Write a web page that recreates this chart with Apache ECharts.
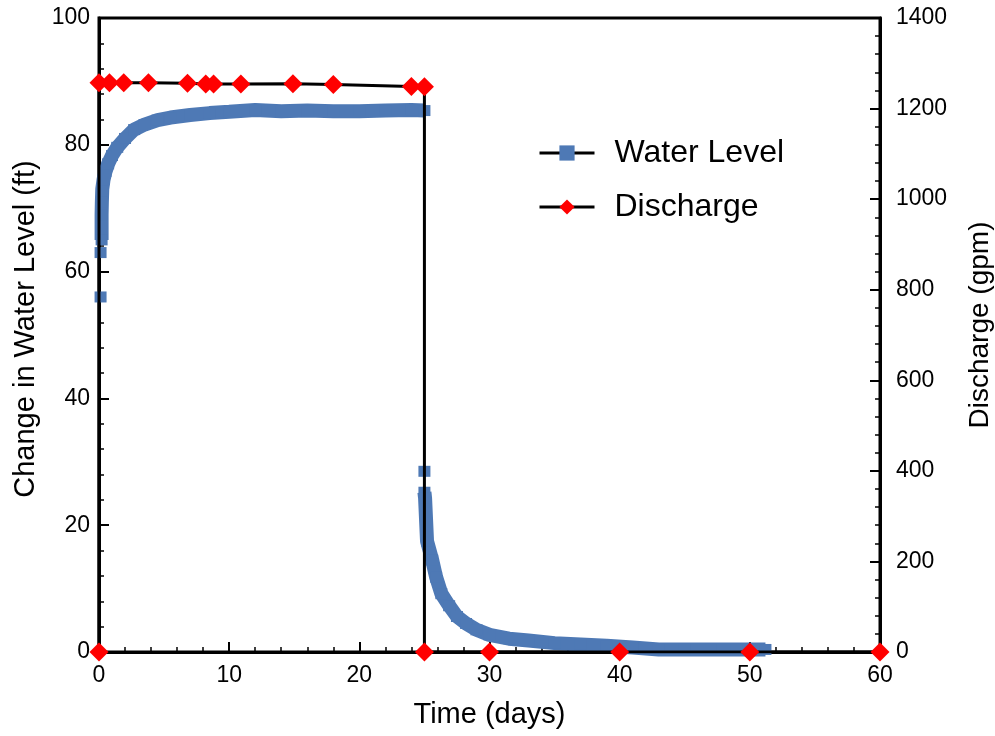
<!DOCTYPE html>
<html>
<head>
<meta charset="utf-8">
<script src="https://cdn.jsdelivr.net/npm/echarts@6/dist/echarts.min.js"></script>
<style>html,body{margin:0;padding:0;background:#fff;}#c{width:995px;height:736px;}</style>
</head>
<body>
<div id="c"></div>
<script>
// Water level (ft): null marks a gap between separately plotted points
const wlTime  = [0.12, 0.12, 0.12, 0.12, 0.2, 0.2, 0.22, 0.25, 0.35, 0.5, 0.7, 1.0, 1.4, 2.0, 2.7, 3.5, 4.5, 5.5, 7.0, 8.5, 10, 12, 14, 16, 18, 20, 22, 24, 25,
                 25.0, 25.0, 25.0, 25.0, 25.05, 25.2, 25.6, 25.9, 26.3, 26.9, 27.5, 28.2, 29.0, 30.0, 31.5, 33, 35, 37, 39, 41, 43, 45, 47, 49, 51.2];
const wlValue = [56, null, 63, null, 65, 69, 71, 73, 74.5, 75.8, 77, 78.3, 79.6, 81, 82.4, 83.2, 83.9, 84.3, 84.7, 85.0, 85.2, 85.5, 85.3, 85.4, 85.3, 85.3, 85.4, 85.5, 85.4,
                 null, 28.5, null, 25.2, 24.3, 17.5, 14.5, 11.8, 9.2, 7.3, 5.6, 4.5, 3.5, 2.7, 2.1, 1.8, 1.4, 1.2, 1.0, 0.7, 0.4, 0.4, 0.4, 0.4, 0.4];
// Discharge (gpm)
const dqTime  = [0, 0, 0.8, 1.9, 3.8, 6.8, 8.2, 8.8, 10.9, 14.9, 18.0, 24.0, 25.0, 25.0, 30.0, 40.0, 50.0, 60.0];
const dqValue = [0, 1257, 1257, 1257, 1257, 1256, 1254, 1254, 1254, 1255, 1253, 1249, 1248, 0, 0, 0, 0, 0];
// Axes
const xTicks = [0, 10, 20, 30, 40, 50, 60];
const leftTicks = [0, 20, 40, 60, 80, 100];
const rightTicks = [0, 200, 400, 600, 800, 1000, 1200, 1400];
const seriesNames = ['Water Level', 'Discharge'];

const FONT = 'Liberation Sans, Arial, sans-serif';
const wlData = wlTime.map((t, i) => [t, wlValue[i] === null ? '-' : wlValue[i]]);
const dqData = dqTime.map((t, i) => [t, dqValue[i]]);

function axisCommon() {
  return {
    axisLine: { show: true, onZero: false, lineStyle: { color: '#000', width: 3 } },
    axisTick: { show: true, inside: true, length: 10, lineStyle: { color: '#000', width: 2 } },
    minorTick: { show: true, splitNumber: 5, length: 5, lineStyle: { color: '#000', width: 1.5 } },
    splitLine: { show: false },
    minorSplitLine: { show: false },
    nameTextStyle: { color: '#000', fontFamily: FONT, fontSize: 28 },
    nameLocation: 'middle'
  };
}
const plain = v => String(v);

const chart = echarts.init(document.getElementById('c'), null, { renderer: 'canvas' });
chart.setOption({
  animation: false,
  backgroundColor: '#fff',
  grid: { left: 99, right: 115, top: 18, bottom: 84, show: true, borderColor: '#000', borderWidth: 3,
          backgroundColor: 'transparent', containLabel: false, outerBoundsMode: 'none' },
  legend: {
    orient: 'vertical', left: 533, top: 131,
    data: seriesNames,
    itemWidth: 55, itemHeight: 19, itemGap: 20,
    lineStyle: { color: '#000', width: 3 },
    textStyle: { color: '#000', fontFamily: FONT, fontSize: 32, lineHeight: 34, padding: [0, 0, 0, 15] }
  },
  xAxis: Object.assign(axisCommon(), {
    type: 'value', min: xTicks[0], max: xTicks[xTicks.length - 1], interval: 10,
    name: 'Time (days)', nameGap: 48,
    nameTextStyle: { color: '#000', fontFamily: FONT, fontSize: 29 },
    axisLabel: { color: '#000', fontFamily: FONT, fontSize: 23, margin: 12, formatter: plain }
  }),
  yAxis: [
    Object.assign(axisCommon(), {
      type: 'value', min: leftTicks[0], max: leftTicks[leftTicks.length - 1], interval: 20,
      position: 'left',
      name: 'Change in Water Level (ft)', nameGap: 54,
      nameTextStyle: { color: '#000', fontFamily: FONT, fontSize: 29, padding: [0, 0, 0, 12] },
      axisLabel: { color: '#000', fontFamily: FONT, fontSize: 23, margin: 9, formatter: plain }
    }),
    Object.assign(axisCommon(), {
      type: 'value', min: rightTicks[0], max: rightTicks[rightTicks.length - 1], interval: 200,
      position: 'right',
      name: 'Discharge (gpm)', nameGap: 86,
      nameTextStyle: { color: '#000', fontFamily: FONT, fontSize: 28, padding: [0, 0, 0, 20] },
      axisLabel: { color: '#000', fontFamily: FONT, fontSize: 23, margin: 16, formatter: plain }
    })
  ],
  series: [
    {
      name: seriesNames[0], type: 'line', yAxisIndex: 0, data: wlData,
      connectNulls: false,
      symbol: 'rect', symbolSize: [12, 11], showAllSymbol: true,
      itemStyle: { color: '#4E79B5' },
      lineStyle: { color: '#4E79B5', width: 14 },
      z: 2
    },
    {
      name: seriesNames[1], type: 'line', yAxisIndex: 1, data: dqData,
      symbol: 'diamond', symbolSize: 19, showAllSymbol: true,
      itemStyle: { color: '#FF0000' },
      lineStyle: { color: '#000', width: 3 },
      z: 3
    }
  ]
});
</script>
</body>
</html>
